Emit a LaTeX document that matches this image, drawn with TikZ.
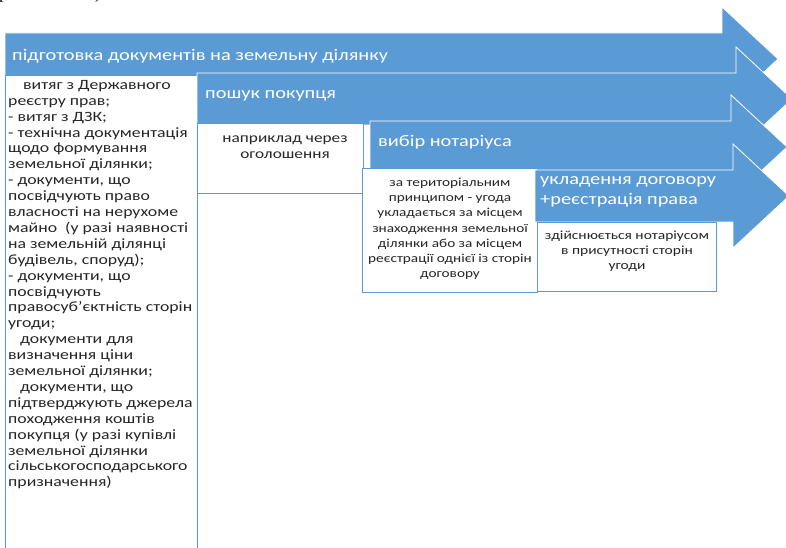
\documentclass[tikz,border=0pt]{standalone}
\usepackage{fontspec}
\setmainfont{Carlito}[FakeStretch=1.25]
\newfontfamily\capfont{Liberation Serif}
\definecolor{stageblue}{HTML}{5B9BD5}
\tikzset{
  stage/.style={fill=stageblue, draw=white, line width=0.8pt},
  notebox/.style={fill=white, draw=stageblue, line width=0.9pt},
  stagelabel/.style={text=white, anchor=west, inner sep=0pt, align=left,
    font=\fontsize{16.3}{20}\selectfont},
  notetext/.style={inner sep=0pt, align=center, text=black!85,
    font=\fontsize{13}{15.5}\selectfont},
}
% left end, centre line, base of the head
\newcommand{\stagearrow}[3]{%
  \draw[stage] (#1,#2-26) -- (#3,#2-26) -- (#3,#2-52) -- (#3+56,#2)
    -- (#3,#2+52) -- (#3,#2+26) -- (#1,#2+26) -- cycle;}
\begin{document}
\begin{tikzpicture}[x=1pt,y=-1pt]
  \useasboundingbox (0,0) rectangle (786,548);
  % remains of the caption line above
  \node[font=\capfont\fontsize{18}{20}\selectfont, anchor=base west, inner sep=0pt] (capa) at (-1,-1) {р};
  \node[font=\capfont\fontsize{18}{20}\selectfont, anchor=base west, inner sep=0pt] (capb) at (95,-1) {)};
  % stage 1: documents
  \stagearrow{5}{59}{722}
  \node[stagelabel] (docs) at (12,56) {підготовка документів на земельну ділянку};
  \draw[notebox] (5,75) rectangle (197,560);
  \node[notetext, align=left, anchor=north west, font=\fontsize{14.2}{15.9}\selectfont] (docslist) at (8,80) {%
    \hspace*{15pt}витяг з Державного\\
    реєстру прав;\\
    - витяг з ДЗК;\\
    - технічна документація\\
    щодо формування\\
    земельної ділянки;\\
    - документи, що\\
    посвідчують право\\
    власності на нерухоме\\
    майно\ \ (у разі наявності\\
    на земельній ділянці\\
    будівель, споруд);\\
    - документи, що\\
    посвідчують\\
    правосуб'єктність сторін\\
    угоди;\\
    \hspace*{12pt}документи для\\
    визначення ціни\\
    земельної ділянки;\\
    \hspace*{12pt}документи, що\\
    підтверджують джерела\\
    походження коштів\\
    покупця (у разі купівлі\\
    земельної ділянки\\
    сільськогосподарського\\
    призначення)};
  % stage 2: buyer
  \stagearrow{197}{99}{736}
  \node[stagelabel] (buyer) at (205,96) {пошук покупця};
  \draw[notebox] (197,123) rectangle (363,193);
  \node[notetext, font=\fontsize{13.8}{16.5}\selectfont] (buyernote) at (285,147) {наприклад через\\оголошення};
  % stage 3: notary
  \stagearrow{370}{147}{731}
  \node[stagelabel] (notary) at (378,142) {вибір нотаріуса};
  \draw[notebox] (362,168) rectangle (537,292);
  \node[notetext, font=\fontsize{12.2}{15.2}\selectfont] (notarynote) at (450,229) {за територіальним\\
    принципом - угода\\
    укладається за місцем\\
    знаходження земельної\\
    ділянки або за місцем\\
    реєстрації однієї із сторін\\
    договору};
  % stage 4: contract
  \stagearrow{535}{196}{733}
  \node[stagelabel] (contract) at (540,192) {укладення договору\\+реєстрація права};
  \draw[notebox] (537,222) rectangle (716,291);
  \node[notetext, font=\fontsize{12.4}{15}\selectfont] (contractnote) at (627,251) {здійснюється нотаріусом\\в присутності сторін\\угоди};
\end{tikzpicture}
\end{document}
